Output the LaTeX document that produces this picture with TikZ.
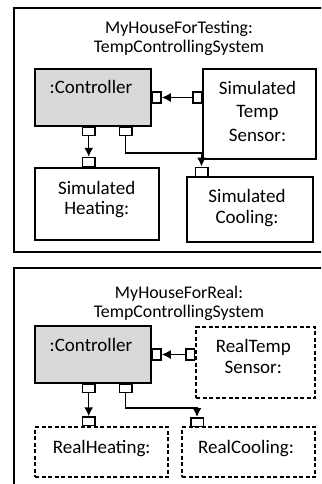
\documentclass[tikz,border=0pt]{standalone}
\usepackage{fontspec}
\setmainfont{Carlito}
\usetikzlibrary{arrows.meta}

\begin{document}
\begin{tikzpicture}[x=1pt,y=-1pt,
  every node/.style={font=\fontsize{19}{21}\selectfont},
  part/.style={draw,line width=1.5pt,inner sep=0pt},
  syspart/.style={part,line width=1.7pt},
  ctrlpart/.style={part,fill=black!15},
  realpart/.style={part,dash pattern=on 4pt off 2.5pt},
  hport/.style={draw,fill=white,line width=1.5pt,minimum width=12.5pt,minimum height=8.5pt,inner sep=0pt},
  vport/.style={draw,fill=white,line width=1.5pt,minimum width=8.5pt,minimum height=11pt,inner sep=0pt},
  txt/.style={align=center,anchor=base,inner sep=0pt},
  titletxt/.style={txt,font=\fontsize{17.8}{19}\selectfont},
  flow/.style={line width=1.5pt,-{Latex[length=9pt,width=9pt]}}]

\clip (0,0) rectangle (321,484);

% testing system
\node[syspart,minimum width=331pt,minimum height=244pt] (testsys) at (179.5,130) {};
\node[titletxt] (testtitle) at (179,52.3) {MyHouseForTesting:\\TempControllingSystem};

\node[ctrlpart,minimum width=116pt,minimum height=57pt] (ctrl1) at (93,97.5) {};
\node[txt] (ctrl1txt) at (91,94) {:Controller};
\node[part,minimum width=113pt,minimum height=90pt] (sens1) at (259.5,114) {};
\node[txt,font=\fontsize{19}{23.5}\selectfont] (sens1txt) at (257.5,141) {Simulated\\Temp\\Sensor:};
\node[part,minimum width=124pt,minimum height=72pt] (heat1) at (97,204) {};
\node[txt,font=\fontsize{19}{20}\selectfont] (heat1txt) at (96.7,214.3) {Simulated\\Heating:};
\node[part,minimum width=126pt,minimum height=65pt] (cool1) at (250,209.5) {};
\node[txt] (cool1txt) at (247,223.3) {Simulated\\Cooling:};

\node[vport,anchor=west] (cp1) at (ctrl1.east) {};
\node[vport,anchor=east] (sp1) at (sens1.west |- cp1) {};
\node[hport,anchor=north] (bh1) at (88.7,126) {};
\node[hport,anchor=north] (bc1) at (125.5,126) {};
\node[hport,anchor=south,minimum height=9pt] (hp1) at (bh1 |- heat1.north) {};
\node[hport,anchor=south,minimum height=9pt] (kp1) at (201.5,177) {};

\draw[flow] (sp1.west) -- (cp1.east);
\draw[flow] (bh1.south) -- (hp1.north);
\draw[flow] (bc1.south) -- ++(0,17) -| (kp1.north);

% real system
\node[syspart,minimum width=331pt,minimum height=232pt] (realsys) at (179.5,384) {};
\node[titletxt] (realtitle) at (179,317) {MyHouseForReal:\\TempControllingSystem};

\node[ctrlpart,minimum width=116pt,minimum height=57pt] (ctrl2) at (93,354.5) {};
\node[txt] (ctrl2txt) at (91,351) {:Controller};
\node[realpart,minimum width=119pt,minimum height=71pt] (sens2) at (255.5,362.5) {};
\node[txt] (sens2txt) at (253.3,373.3) {RealTemp\\Sensor:};
\node[realpart,minimum width=133pt,minimum height=50pt] (heat2) at (101.5,452) {};
\node[txt] (heat2txt) at (101.7,453.3) {RealHeating:};
\node[realpart,minimum width=133pt,minimum height=50pt] (cool2) at (248.5,452) {};
\node[txt] (cool2txt) at (246,453.3) {RealCooling:};

\node[vport,anchor=west] (cp2) at (ctrl2.east) {};
\node[vport,anchor=east] (sp2) at (sens2.west |- cp2) {};
\node[hport,anchor=north] (bh2) at (88.7,383) {};
\node[hport,anchor=north] (bc2) at (125.5,383) {};
\node[hport,anchor=south] (hp2) at (bh2 |- heat2.north) {};
\node[hport,anchor=south] (kp2) at (197,427) {};

\draw[flow] (sp2.west) -- (cp2.east);
\draw[flow] (bh2.south) -- (hp2.north);
\draw[flow] (bc2.south) -- ++(0,15) -| (kp2.north);

\end{tikzpicture}
\end{document}
